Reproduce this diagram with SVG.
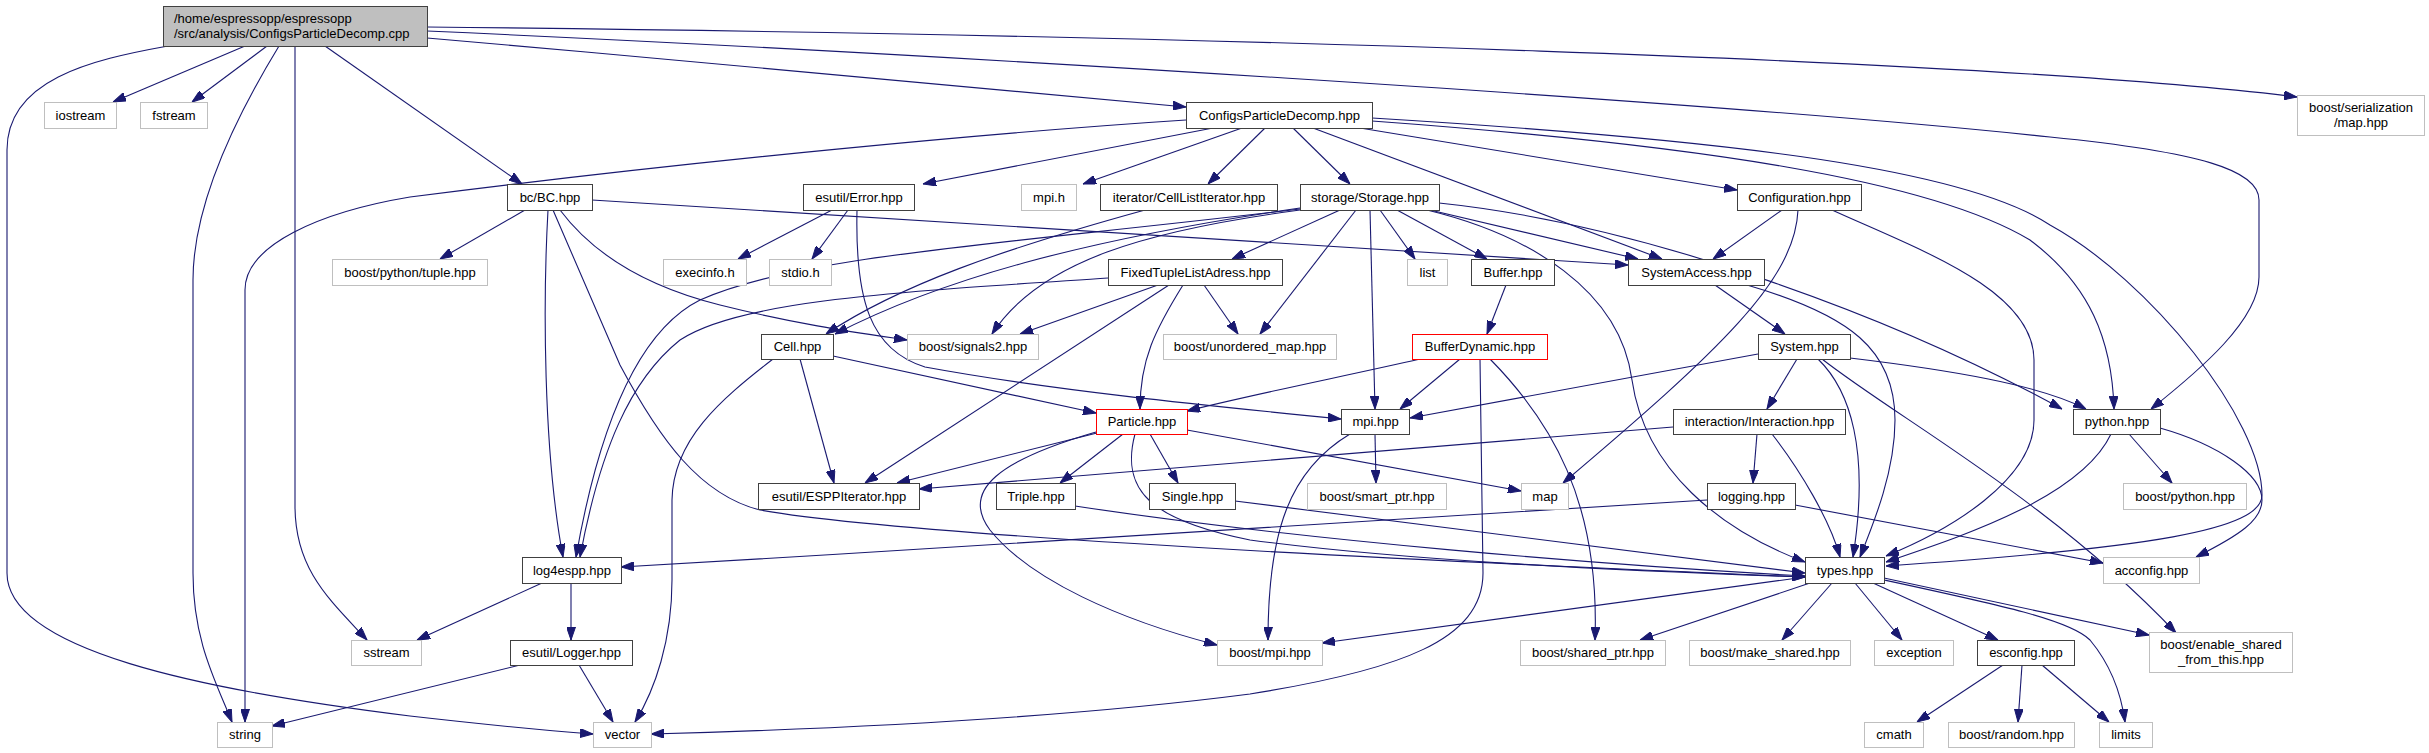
<svg xmlns="http://www.w3.org/2000/svg" width="2429" height="753" viewBox="0 0 2429 753">
<defs>
<marker id="a" viewBox="0 0 13 9" refX="13" refY="4.5" markerWidth="13" markerHeight="9" orient="auto" markerUnits="userSpaceOnUse"><path d="M0,0 L13,4.5 L0,9 z" fill="#191970" stroke="#191970" stroke-width="1"/></marker>
</defs>
<style>
rect{fill:#fff;stroke-width:1}
.n rect{stroke:#404040}
.x rect{stroke:#bfbfbf}
.r rect{stroke:#ff0000}
.g rect{fill:#bfbfbf;stroke:#404040}
text{font-family:"Liberation Sans",Arial,sans-serif;font-size:13px;fill:#000;text-anchor:middle}
#edges path{fill:none;stroke:#191970;stroke-width:1.1;marker-end:url(#a)}
</style>
<rect x="0" y="0" width="2429" height="753" fill="#fff" stroke="none"/>
<g id="edges">
<path d="M245,46 L113,102"/>
<path d="M267,46 L192,102"/>
<path d="M168,46 C90,60 7,80 7,150 L7,573 C7,650 200,690 410,716 C480,724 540,730 593,734"/>
<path d="M279,46 C240,110 193,200 193,280 L193,573 C193,640 215,680 232,722"/>
<path d="M295,46 L295,506 C295,570 330,600 367,640"/>
<path d="M325,46 L522,184"/>
<path d="M427,38 C700,62 1000,88 1186,107"/>
<path d="M427,27 C1200,35 2000,60 2297,97"/>
<path d="M427,31 C900,52 1700,100 2050,137 C2200,152 2259,170 2259,200 L2259,277 C2259,320 2200,370 2151,409"/>
<path d="M1186,120 C1000,132 700,160 410,197 C320,212 245,245 245,290 L245,722"/>
<path d="M1213,128 L923,184"/>
<path d="M1242,128 L1083,184"/>
<path d="M1265,128 L1208,184"/>
<path d="M1293,128 L1350,184"/>
<path d="M1313,128 L1662,259"/>
<path d="M1360,128 L1737,190"/>
<path d="M1372,121 C1700,145 1930,180 2030,240 C2090,285 2112,340 2114,409"/>
<path d="M1372,118 C1700,138 1960,165 2050,225 C2150,280 2262,420 2262,495 C2262,530 2150,548 1886,566"/>
<path d="M525,210 L440,259"/>
<path d="M592,200 L1628,265"/>
<path d="M548,210 C543,300 543,450 563,557"/>
<path d="M553,210 L620,365 C660,440 700,495 760,510 C900,535 1400,560 1805,577"/>
<path d="M560,210 C590,250 640,285 720,305 C800,325 860,333 907,340"/>
<path d="M832,210 L738,259"/>
<path d="M848,210 L812,259"/>
<path d="M857,210 C855,300 870,350 925,367 C1050,390 1200,405 1341,419"/>
<path d="M1145,210 C1000,250 900,285 826,334"/>
<path d="M1300,208 C1080,240 940,280 835,334"/>
<path d="M1300,210 C1150,230 1040,260 992,334"/>
<path d="M1300,209 C1000,245 800,255 700,300 C640,330 600,420 576,557"/>
<path d="M1340,210 L1232,259"/>
<path d="M1356,210 L1260,334"/>
<path d="M1370,210 L1375,409"/>
<path d="M1380,210 L1415,259"/>
<path d="M1397,210 L1487,259"/>
<path d="M1430,210 L1638,259"/>
<path d="M1439,203 C1650,225 1900,320 2062,409"/>
<path d="M1427,210 C1530,235 1620,290 1632,380 C1645,470 1720,530 1805,562"/>
<path d="M1158,285 L1020,334"/>
<path d="M1204,285 L1238,334"/>
<path d="M1183,285 C1155,330 1140,360 1140,409"/>
<path d="M1169,285 L865,483"/>
<path d="M1108,278 C900,292 740,300 680,340 C630,380 600,450 580,557"/>
<path d="M1506,285 L1487,334"/>
<path d="M1420,359 C1350,375 1250,395 1187,411"/>
<path d="M1460,359 L1400,409"/>
<path d="M1480,359 L1483,573 C1483,640 1400,670 1250,694 C1050,720 800,730 651,734"/>
<path d="M1490,359 C1550,420 1600,500 1595,640"/>
<path d="M1715,285 L1785,334"/>
<path d="M1747,285 C1850,315 1895,350 1895,420 C1895,470 1875,520 1860,557"/>
<path d="M1782,210 L1713,259"/>
<path d="M1798,210 C1795,280 1720,350 1563,483"/>
<path d="M1832,210 C1920,250 2034,290 2034,360 L2034,420 C2034,480 1950,530 1886,556"/>
<path d="M1758,354 L1410,418"/>
<path d="M1797,359 L1767,409"/>
<path d="M1818,359 C1850,390 1870,450 1853,557"/>
<path d="M1822,359 C1900,420 2050,500 2176,633"/>
<path d="M1850,358 C1950,370 2040,385 2086,409"/>
<path d="M833,356 L1096,413"/>
<path d="M800,359 L834,483"/>
<path d="M773,359 C720,400 673,440 672,500 L672,580 C672,640 655,690 635,722"/>
<path d="M1097,433 L897,483"/>
<path d="M1123,434 L1060,483"/>
<path d="M1150,434 L1178,483"/>
<path d="M1187,430 L1521,491"/>
<path d="M1135,434 C1120,490 1150,520 1250,540 C1400,560 1600,570 1805,577"/>
<path d="M1096,432 C1000,460 960,490 990,530 C1030,580 1120,620 1217,645"/>
<path d="M1075,506 C1300,540 1600,565 1805,576"/>
<path d="M1235,501 L1805,573"/>
<path d="M1673,427 L919,489"/>
<path d="M1757,434 L1753,483"/>
<path d="M1772,434 C1800,470 1830,520 1840,557"/>
<path d="M1375,434 L1376,483"/>
<path d="M1350,434 C1290,470 1268,530 1268,640"/>
<path d="M1707,500 C1400,520 1000,545 621,567"/>
<path d="M1795,505 L2103,563"/>
<path d="M2129,434 L2172,483"/>
<path d="M2111,434 C2080,500 1950,540 1886,562"/>
<path d="M2160,428 C2220,445 2262,475 2262,500 C2262,520 2240,535 2196,557"/>
<path d="M1805,577 L1322,643"/>
<path d="M1810,583 L1640,640"/>
<path d="M1832,583 L1782,640"/>
<path d="M1855,583 L1902,640"/>
<path d="M1873,583 L1998,640"/>
<path d="M1884,580 C2000,605 2070,620 2090,640 C2115,670 2122,700 2125,722"/>
<path d="M1884,578 L2149,635"/>
<path d="M2003,665 L1917,722"/>
<path d="M2022,665 L2018,722"/>
<path d="M2042,665 L2109,722"/>
<path d="M542,583 L417,640"/>
<path d="M571,583 L571,640"/>
<path d="M520,665 L272,726"/>
<path d="M579,665 L613,722"/>
</g>
<g id="n_root" class="g"><rect x="163.5" y="6.5" width="264" height="40"/><text x="174" y="22.5" style="text-anchor:start">/home/espressopp/espressopp</text><text x="174" y="37.5" style="text-anchor:start">/src/analysis/ConfigsParticleDecomp.cpp</text></g>
<g id="n_iostream" class="x"><rect x="44.5" y="102.5" width="72" height="26"/><text x="80.5" y="119.5">iostream</text></g>
<g id="n_fstream" class="x"><rect x="140.5" y="102.5" width="67" height="26"/><text x="174" y="119.5">fstream</text></g>
<g id="n_cpdhpp" class="n"><rect x="1186.5" y="102.5" width="186" height="26"/><text x="1279.5" y="119.5">ConfigsParticleDecomp.hpp</text></g>
<g id="n_sermap" class="x"><rect x="2297.5" y="95.5" width="127" height="40"/><text x="2361" y="112">boost/serialization</text><text x="2361" y="127">/map.hpp</text></g>
<g id="n_bc" class="n"><rect x="507.5" y="184.5" width="85" height="26"/><text x="550" y="201.5">bc/BC.hpp</text></g>
<g id="n_error" class="n"><rect x="803.5" y="184.5" width="111" height="26"/><text x="859" y="201.5">esutil/Error.hpp</text></g>
<g id="n_mpih" class="x"><rect x="1021.5" y="184.5" width="55" height="26"/><text x="1049" y="201.5">mpi.h</text></g>
<g id="n_cli" class="n"><rect x="1100.5" y="184.5" width="177" height="26"/><text x="1189" y="201.5">iterator/CellListIterator.hpp</text></g>
<g id="n_storage" class="n"><rect x="1300.5" y="184.5" width="139" height="26"/><text x="1370" y="201.5">storage/Storage.hpp</text></g>
<g id="n_config" class="n"><rect x="1737.5" y="184.5" width="124" height="26"/><text x="1799.5" y="201.5">Configuration.hpp</text></g>
<g id="n_pytuple" class="x"><rect x="332.5" y="259.5" width="155" height="26"/><text x="410" y="276.5">boost/python/tuple.hpp</text></g>
<g id="n_execinfo" class="x"><rect x="663.5" y="259.5" width="83" height="26"/><text x="705" y="276.5">execinfo.h</text></g>
<g id="n_stdio" class="x"><rect x="769.5" y="259.5" width="62" height="26"/><text x="800.5" y="276.5">stdio.h</text></g>
<g id="n_ftla" class="n"><rect x="1108.5" y="259.5" width="174" height="26"/><text x="1195.5" y="276.5">FixedTupleListAdress.hpp</text></g>
<g id="n_list" class="x"><rect x="1407.5" y="259.5" width="40" height="26"/><text x="1427.5" y="276.5">list</text></g>
<g id="n_buffer" class="n"><rect x="1471.5" y="259.5" width="83" height="26"/><text x="1513" y="276.5">Buffer.hpp</text></g>
<g id="n_sysacc" class="n"><rect x="1628.5" y="259.5" width="136" height="26"/><text x="1696.5" y="276.5">SystemAccess.hpp</text></g>
<g id="n_cell" class="n"><rect x="761.5" y="334.5" width="72" height="25"/><text x="797.5" y="351">Cell.hpp</text></g>
<g id="n_signals2" class="x"><rect x="907.5" y="334.5" width="131" height="25"/><text x="973" y="351">boost/signals2.hpp</text></g>
<g id="n_umap" class="x"><rect x="1163.5" y="334.5" width="173" height="25"/><text x="1250" y="351">boost/unordered_map.hpp</text></g>
<g id="n_bufdyn" class="r"><rect x="1412.5" y="334.5" width="135" height="25"/><text x="1480" y="351">BufferDynamic.hpp</text></g>
<g id="n_system" class="n"><rect x="1758.5" y="334.5" width="92" height="25"/><text x="1804.5" y="351">System.hpp</text></g>
<g id="n_particle" class="r"><rect x="1096.5" y="409.5" width="91" height="25"/><text x="1142" y="426">Particle.hpp</text></g>
<g id="n_mpihpp" class="n"><rect x="1341.5" y="409.5" width="68" height="25"/><text x="1375.5" y="426">mpi.hpp</text></g>
<g id="n_interaction" class="n"><rect x="1673.5" y="409.5" width="172" height="25"/><text x="1759.5" y="426">interaction/Interaction.hpp</text></g>
<g id="n_python" class="n"><rect x="2073.5" y="409.5" width="87" height="25"/><text x="2117" y="426">python.hpp</text></g>
<g id="n_esppit" class="n"><rect x="758.5" y="483.5" width="161" height="26"/><text x="839" y="500.5">esutil/ESPPIterator.hpp</text></g>
<g id="n_triple" class="n"><rect x="996.5" y="483.5" width="79" height="26"/><text x="1036" y="500.5">Triple.hpp</text></g>
<g id="n_single" class="n"><rect x="1149.5" y="483.5" width="86" height="26"/><text x="1192.5" y="500.5">Single.hpp</text></g>
<g id="n_smartptr" class="x"><rect x="1307.5" y="483.5" width="139" height="26"/><text x="1377" y="500.5">boost/smart_ptr.hpp</text></g>
<g id="n_map" class="x"><rect x="1521.5" y="483.5" width="47" height="26"/><text x="1545" y="500.5">map</text></g>
<g id="n_logging" class="n"><rect x="1707.5" y="483.5" width="88" height="26"/><text x="1751.5" y="500.5">logging.hpp</text></g>
<g id="n_bpython" class="x"><rect x="2123.5" y="483.5" width="123" height="26"/><text x="2185" y="500.5">boost/python.hpp</text></g>
<g id="n_log4espp" class="n"><rect x="522.5" y="557.5" width="99" height="26"/><text x="572" y="574.5">log4espp.hpp</text></g>
<g id="n_types" class="n"><rect x="1805.5" y="557.5" width="79" height="26"/><text x="1845" y="574.5">types.hpp</text></g>
<g id="n_acconfig" class="x"><rect x="2103.5" y="557.5" width="96" height="26"/><text x="2151.5" y="574.5">acconfig.hpp</text></g>
<g id="n_sstream" class="x"><rect x="351.5" y="640.5" width="70" height="25"/><text x="386.5" y="657">sstream</text></g>
<g id="n_logger" class="n"><rect x="510.5" y="640.5" width="122" height="25"/><text x="571.5" y="657">esutil/Logger.hpp</text></g>
<g id="n_bmpi" class="x"><rect x="1217.5" y="640.5" width="105" height="25"/><text x="1270" y="657">boost/mpi.hpp</text></g>
<g id="n_sharedptr" class="x"><rect x="1520.5" y="640.5" width="145" height="25"/><text x="1593" y="657">boost/shared_ptr.hpp</text></g>
<g id="n_makeshared" class="x"><rect x="1689.5" y="640.5" width="161" height="25"/><text x="1770" y="657">boost/make_shared.hpp</text></g>
<g id="n_exception" class="x"><rect x="1874.5" y="640.5" width="79" height="25"/><text x="1914" y="657">exception</text></g>
<g id="n_esconfig" class="n"><rect x="1977.5" y="640.5" width="97" height="25"/><text x="2026" y="657">esconfig.hpp</text></g>
<g id="n_enable" class="x"><rect x="2149.5" y="632.5" width="143" height="40"/><text x="2221" y="649">boost/enable_shared</text><text x="2221" y="664">_from_this.hpp</text></g>
<g id="n_string" class="x"><rect x="217.5" y="722.5" width="55" height="25"/><text x="245" y="739">string</text></g>
<g id="n_vector" class="x"><rect x="593.5" y="722.5" width="58" height="25"/><text x="622.5" y="739">vector</text></g>
<g id="n_cmath" class="x"><rect x="1864.5" y="722.5" width="59" height="25"/><text x="1894" y="739">cmath</text></g>
<g id="n_brandom" class="x"><rect x="1948.5" y="722.5" width="126" height="25"/><text x="2011.5" y="739">boost/random.hpp</text></g>
<g id="n_limits" class="x"><rect x="2099.5" y="722.5" width="53" height="25"/><text x="2126" y="739">limits</text></g>
</svg>
